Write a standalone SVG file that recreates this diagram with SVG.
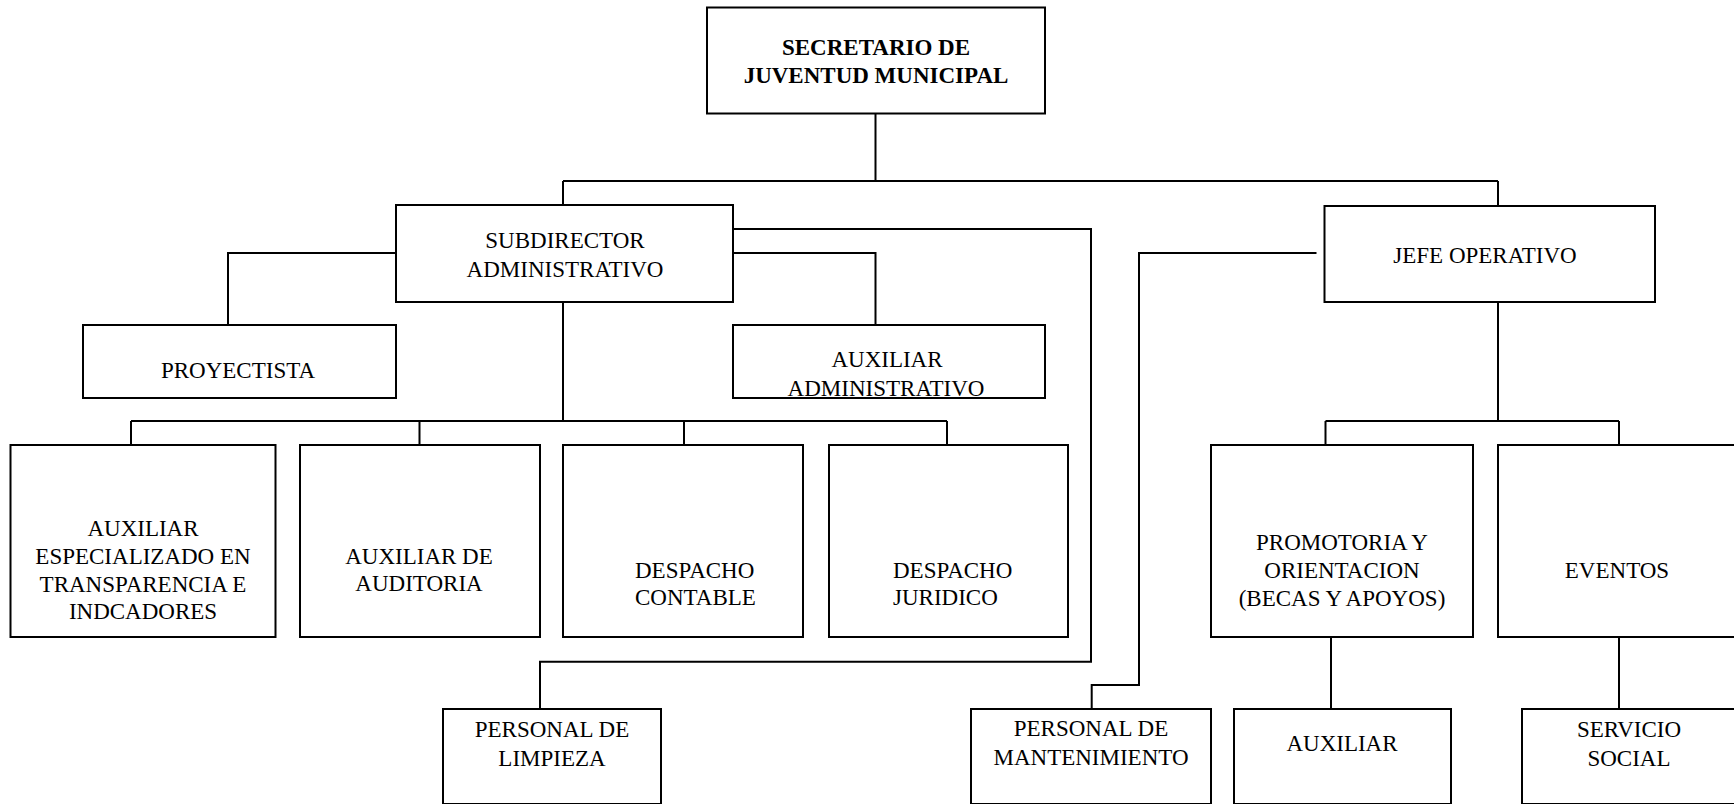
<svg xmlns="http://www.w3.org/2000/svg" width="1734" height="804" viewBox="0 0 1734 804">
<style>
.box{fill:#fff;stroke:#000;stroke-width:2}
.ln{fill:none;stroke:#000;stroke-width:2}
text{font-family:"Liberation Serif","Times New Roman",serif;font-size:23px;fill:#000}
.c{text-anchor:middle}
.b{font-weight:bold}
</style>
<rect width="1734" height="804" fill="#fff"/>
<g id="connectors">
<path class="ln" d="M875.5 113.5V181M563 181H1498M563 181V205M1498 181V206"/>
<path class="ln" d="M733 229H1091V661.7H540V709"/>
<path class="ln" d="M396 253H228V325"/>
<path class="ln" d="M733 253H875.5V325"/>
<path class="ln" d="M563 302V421M131 421H947M131 421V445M419.5 421V445M684 421V445M947 421V445"/>
<path class="ln" d="M1316.5 253H1139V685H1091.7V709"/>
<path class="ln" d="M1498 302V421M1325.5 421H1619M1325.5 421V445M1619 421V445"/>
<path class="ln" d="M1331 637V709M1619 637V709"/>
</g>
<g id="secretario">
<rect class="box" x="707" y="7.5" width="338" height="106"/>
<text class="c b" x="876" y="55">SECRETARIO DE</text>
<text class="c b" x="876" y="83">JUVENTUD MUNICIPAL</text>
</g>
<g id="subdirector">
<rect class="box" x="396" y="205" width="337" height="97"/>
<text class="c" x="565" y="248">SUBDIRECTOR</text>
<text class="c" x="565" y="277">ADMINISTRATIVO</text>
</g>
<g id="jefe">
<rect class="box" x="1324.5" y="206" width="330.5" height="96"/>
<text class="c" x="1485" y="263">JEFE OPERATIVO</text>
</g>
<g id="proyectista">
<rect class="box" x="83" y="325" width="313" height="73"/>
<text class="c" x="238" y="378">PROYECTISTA</text>
</g>
<g id="auxadmin">
<rect class="box" x="733" y="325" width="312" height="73"/>
<text class="c" x="887" y="367">AUXILIAR</text>
<text class="c" x="886" y="396">ADMINISTRATIVO</text>
</g>
<g id="auxesp">
<rect class="box" x="10.5" y="445" width="265" height="192"/>
<text class="c" x="143" y="536">AUXILIAR</text>
<text class="c" x="143" y="564">ESPECIALIZADO EN</text>
<text class="c" x="143" y="592">TRANSPARENCIA E</text>
<text class="c" x="143" y="619">INDCADORES</text>
</g>
<g id="auxaud">
<rect class="box" x="300" y="445" width="240" height="192"/>
<text class="c" x="419" y="564">AUXILIAR DE</text>
<text class="c" x="419" y="591">AUDITORIA</text>
</g>
<g id="contable">
<rect class="box" x="563" y="445" width="240" height="192"/>
<text x="635" y="578">DESPACHO</text>
<text x="635" y="605">CONTABLE</text>
</g>
<g id="juridico">
<rect class="box" x="829" y="445" width="239" height="192"/>
<text x="893" y="578">DESPACHO</text>
<text x="893" y="605">JURIDICO</text>
</g>
<g id="promotoria">
<rect class="box" x="1211" y="445" width="262" height="192"/>
<text class="c" x="1342" y="550">PROMOTORIA Y</text>
<text class="c" x="1342" y="578">ORIENTACION</text>
<text class="c" x="1342" y="605.5">(BECAS Y APOYOS)</text>
</g>
<g id="eventos">
<rect class="box" x="1498" y="445" width="240" height="192"/>
<text class="c" x="1617" y="578">EVENTOS</text>
</g>
<g id="limpieza">
<rect class="box" x="443" y="709" width="218" height="95"/>
<text class="c" x="552" y="737">PERSONAL DE</text>
<text class="c" x="552" y="766">LIMPIEZA</text>
</g>
<g id="mantenimiento">
<rect class="box" x="971" y="709" width="240" height="95"/>
<text class="c" x="1091" y="736">PERSONAL DE</text>
<text class="c" x="1091" y="765">MANTENIMIENTO</text>
</g>
<g id="auxiliar">
<rect class="box" x="1234" y="709" width="217" height="95"/>
<text class="c" x="1342" y="751">AUXILIAR</text>
</g>
<g id="servicio">
<rect class="box" x="1522" y="709" width="216" height="95"/>
<text class="c" x="1629" y="737">SERVICIO</text>
<text class="c" x="1629" y="766">SOCIAL</text>
</g>
</svg>
